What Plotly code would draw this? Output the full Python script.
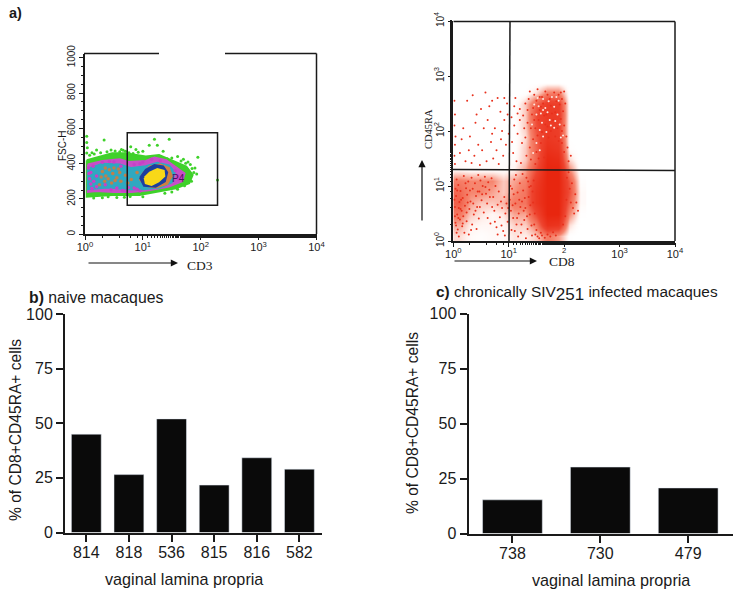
import plotly.graph_objects as go

W, H = 738, 595
def px(x): return x / W
def py(y): return 1 - y / H

# ---------- bar data ----------
b_animals = ["814", "818", "536", "815", "816", "582"]
b_values = [45, 26.5, 52, 21.7, 34.2, 29]
c_animals = ["738", "730", "479"]
c_values = [15.3, 30.2, 20.7]
pct_ticks = [0, 25, 50, 75, 100]

# ---------- panel a, left: density bands (log10 CD3, FSC-H) ----------
green_x = [.03, .24, .47, .7, 1.05, 1.28, 1.57, 1.75, 1.86, 1.8, 1.57, 1.28, .94, .47, .24, .03]
green_y = [420, 440, 459, 459, 440, 449, 411, 383, 336, 289, 260, 241, 222, 222, 219, 213]
magenta_x = [.05, .3, .6, .75, 1.05, 1.2, 1.4, 1.55, 1.72, 1.68, 1.45, 1.1, .8, .5, .2, .05]
magenta_y = [395, 415, 425, 410, 415, 435, 420, 385, 345, 300, 270, 250, 240, 240, 245, 240]
teal_x = [.05, .3, .6, .8, 1.05, 1.25, 1.45, 1.55, 1.5, 1.3, 1.0, .75, .4, .05]
teal_y = [370, 400, 395, 375, 385, 405, 390, 350, 295, 265, 255, 255, 265, 255]
orange_x = [1.0, 1.12, 1.3, 1.45, 1.5, 1.42, 1.22, 1.05, .95]
orange_y = [345, 385, 395, 375, 330, 285, 265, 275, 310]
blue_x = [.95, 1.05, 1.2, 1.35, 1.42, 1.38, 1.22, 1.02]
blue_y = [320, 365, 392, 385, 350, 300, 270, 275]
yellow_x = [1.03, 1.12, 1.25, 1.36, 1.37, 1.27, 1.15, 1.05]
yellow_y = [320, 350, 370, 360, 330, 300, 280, 290]
green_dots_x = [.33, .79, 1.11, 1.2, 1.25, 1.455, 1.95, 2.29, .03, .03, .04, .03, .12, .2, .45, .6, .63, .7, .88,
                1.0, 1.35, 1.6, 1.7, 1.78, 1.82, 1.9, 1.88, 1.6, 1.5, 1.0, .55, .3, .15,
                .08, .16, .27, .38, .52, .66, .76, .83, .92, 1.42, 1.5, 1.66, 1.74, 1.85, 1.93, 1.84, 1.72, 1.38, .78, .68, .4]
green_dots_y = [534, 496, 505, 538, 505, 538, 436, 307, 555, 520, 490, 460, 462, 478, 478, 468, 480, 470, 480,
                470, 470, 440, 425, 410, 395, 375, 350, 255, 240, 212, 208, 207, 205,
                448, 455, 462, 468, 472, 476, 462, 458, 465, 428, 432, 415, 402, 372, 342, 300, 275, 232, 214, 210, 212]
orange_dots_x = [.3, .36, .42, .48, .55, .6, .34, .46, .52, .62, .28, .4, .58, .5, .9, .8, .7, .74, .35, .25]
orange_dots_y = [355, 330, 365, 345, 320, 350, 300, 290, 305, 300, 325, 315, 370, 375, 350, 310, 335, 290, 375, 280]
magenta_dots_x = [.1, .2, .15, .1, .5, .62, .72, .85, .95, 1.6, 1.62, 1.56, 1.66, .2, .35, .55, .75,
                  .06, .08, .12, .07, .14, .3, .42, .68, .9, 1.0, 1.15, 1.3, .95, .85, .65, .45]
magenta_dots_y = [350, 330, 300, 285, 410, 385, 245, 395, 400, 330, 310, 360, 325, 270, 280, 262, 265,
                  375, 315, 260, 345, 385, 408, 412, 245, 255, 410, 425, 415, 245, 262, 248, 252]
gate_x = [0.73, 2.29]
gate_y = [165, 575]

# ---------- panel a, right: density read by eye on a grid (log10 units) ----------
dens_x = [.1, .3, .5, .7, .9, 1.1, 1.3, 1.5, 1.7, 1.9, 2.1, 2.3]
dens_y = [.1, .3, .5, .7, .9, 1.1, 1.3, 1.5, 1.7, 1.9, 2.1, 2.3, 2.5, 2.7, 2.9]
dens_z = [
    [.12, .05, .03, .05, .05, .1, .08, .15, .35, .25, .02, 0],
    [.22, .08, .06, .06, .06, .14, .15, .35, .85, .8, .12, 0],
    [.36, .16, .1, .06, .1, .24, .24, .6, 1, 1, .3, .02],
    [.48, .24, .16, .16, .2, .36, .38, .78, 1, 1, .45, .05],
    [.44, .3, .3, .24, .16, .28, .38, .78, 1, 1, .55, .05],
    [.34, .3, .3, .3, .16, .24, .32, .72, 1, 1, .5, .03],
    [.06, .04, .04, .04, .04, .08, .24, .58, 1, 1, .3, 0],
    [.02, .01, .02, .02, .02, .04, .16, .46, .95, .9, .12, 0],
    [.01, 0, .01, .01, .01, .02, .16, .46, .85, .78, .03, 0],
    [0, 0, 0, 0, .01, .02, .12, .5, .76, .7, .01, 0],
    [0, 0, 0, 0, .01, .02, .16, .56, .74, .68, .01, 0],
    [0, 0, 0, 0, .01, .02, .16, .58, .74, .72, .01, 0],
    [0, 0, 0, 0, .01, .01, .16, .48, .7, .68, .01, 0],
    [0, 0, 0, 0, 0, 0, .02, .12, .34, .34, 0, 0],
    [0, 0, 0, 0, 0, 0, 0, 0, 0, 0, 0, 0],
]
upper_left_dots = [(.02,2.55),(.03,2.3),(.02,2.1),(.04,1.9),(.03,1.75),(.02,1.55),(.03,1.4),(.25,2.55),(.35,2.65),(.42,2.3),
    (.5,2.4),(.58,2.7),(.62,2.2),(.7,2.55),(.75,2.05),(.8,2.6),(.85,2.35),(.92,2.2),(.97,2.5),(1.0,1.95),(.18,2.05),(.3,1.9),
    (.45,1.75),(.55,2.05),(.68,1.8),(.78,1.65),(.88,2.0),(.95,1.75),(.12,1.6),(.22,1.45),(.38,1.55),(.52,1.65),(.6,1.45),
    (.72,1.5),(.82,1.4),(.9,1.55),(.15,1.85),(.28,1.65),(.4,2.15),(.65,2.45),(.86,1.85),(.98,2.3),(.33,1.42),(.48,1.38),
    (.7,1.95),(.92,2.6)]
lower_left_dots = [(.03,.62),(.05,.82),(.07,.48),(.09,1.02),(.11,.71),(.04,.33),(.13,.91),(.15,.55),(.06,1.12),(.17,.78),
    (.19,1.18),(.08,.21),(.21,.64),(.23,.96),(.12,.39),(.25,.84),(.27,1.08),(.16,.27),(.29,.58),(.31,.72),(.33,1.15),(.2,.15),
    (.35,.95),(.37,.48),(.39,1.05),(.24,.36),(.41,.82),(.43,.62),(.45,1.2),(.28,.12),(.47,.9),(.49,1.1),(.34,.3),(.51,.74),
    (.53,1.0),(.55,.52),(.57,1.17),(.42,.22),(.59,.86),(.61,.68),(.63,1.07),(.46,.41),(.65,.93),(.67,.32),(.69,1.14),(.72,.8),
    (.74,.55),(.76,1.0),(.78,.25),(.8,.66),(.82,.9),(.84,.43),(.86,.72),(.88,.6),(.9,.18),(.92,.8),(.94,.5),(.96,.68),(.98,.35),
    (.02,.75),(.04,.95),(.1,.6),(.14,.75),(.18,.45),(.22,1.05),(.26,.7),(.3,.92),(.36,.68),(.4,.55),(.44,.9),(.48,.62),(.52,.85),
    (.58,.98),(.62,.42),(.66,.8),(.7,.62),(.75,.35),(.8,.12),(.87,.28),(.93,.1),(.99,.6),(.06,.15),(.1,.08),(.17,.32),(.13,.58),
    (.07,.92),(.03,.45),(.05,.28),(.09,.42),(.24,.52),(.32,.2)]
lower_mid_dots = [(1.02,.75),(1.04,.55),(1.06,.95),(1.08,.42),(1.1,1.12),(1.12,.68),(1.14,.3),(1.16,.88),(1.18,.5),(1.2,1.05),
    (1.22,.15),(1.24,.72),(1.26,.92),(1.28,.38),(1.3,.6),(1.32,1.15),(1.34,.22),(1.36,.8),(1.38,.48),(1.4,1.0),(1.42,.1),(1.44,.7),
    (1.46,.3),(1.48,.12),(1.5,.2),(1.52,.08),(1.05,.2),(1.09,.85),(1.13,1.2),(1.17,.08),(1.21,.62),(1.25,1.22),(1.29,.78),(1.33,.45),
    (1.37,.98),(1.41,.28),(1.45,1.1),(1.15,.42),(1.23,.3),(1.31,.05),(1.39,.65),(1.27,.55),(1.35,1.08),(1.43,.9),(1.19,.75),(1.11,.18),
    (1.07,.65),(1.03,1.0),(1.47,.5),(1.55,.05),(1.6,.1),(1.58,.15),(1.65,.06),(1.7,.12),(1.75,.08),(1.8,.16),(1.85,.1),
    (2.05,1.15),(2.1,.95),(2.04,.75),(2.12,.7),(2.16,.6),(2.2,.85),(2.22,.7),(2.25,.55),(2.18,.5),(2.14,1.05),(2.08,1.25),(2.02,.45),(1.98,.3)]
upper_lobe_dots = [(1.38,2.72),(1.46,2.66),(1.52,2.76),(1.6,2.62),(1.66,2.72),(1.74,2.58),(1.82,2.7),(1.9,2.66),(1.96,2.58),(2.0,2.72),
    (1.3,2.5),(1.36,2.58),(1.44,2.42),(1.5,2.55),(1.56,2.38),(1.62,2.5),(1.68,2.3),(1.76,2.46),(1.84,2.34),(1.92,2.48),(1.98,2.36),(2.02,2.5),
    (1.12,2.6),(1.2,2.4),(1.26,2.28),(1.34,2.15),(1.42,2.3),(1.48,2.05),(1.54,2.2),(1.6,1.98),(1.66,2.12),(1.72,1.88),(1.8,2.2),(1.88,2.05),
    (1.94,2.22),(2.0,2.1),(2.04,1.9),(1.1,2.1),(1.16,1.95),(1.24,1.78),(1.3,1.88),(1.38,1.7),(1.44,1.85),(1.5,1.62),(1.58,1.78),(1.64,1.52),
    (1.96,1.78),(2.0,1.62),(2.06,1.7),(2.08,1.45),(2.12,1.55),(1.08,1.6),(1.14,1.45),(1.22,1.42),(1.32,1.55),(1.4,1.48),(1.48,1.4),(1.54,1.5),
    (1.56,2.62),(1.7,2.66),(1.78,2.32),(1.86,2.54),(1.94,2.7),(1.46,2.2),(1.52,1.92),(1.58,2.44),(1.64,2.28),(1.7,2.08),(1.76,2.0),(1.84,1.9),
    (1.9,1.82),(1.96,2.0),(1.4,2.05),(1.34,2.38),(1.28,2.05),(1.2,2.2),(1.16,2.32),(1.1,2.45),(1.06,1.8),(1.05,2.25)]
pale_speckle = [(1.52,2.6),(1.58,2.32),(1.62,2.58),(1.54,2.45),(1.66,2.42),(1.72,2.54),(1.6,2.15),(1.68,1.98),(1.74,2.2),(1.82,2.44),
    (1.88,2.3),(1.92,2.12),(1.98,1.92),(1.82,2.06),(1.78,2.62),(1.86,2.62),(1.5,2.3),(1.46,2.48),(1.42,2.12),(1.56,2.02),(1.5,1.78),
    (1.44,1.6),(1.56,1.65),(1.62,1.9),(1.9,2.55),(1.7,2.34),(1.62,2.38),(1.76,2.1),(1.84,2.18),(1.94,1.88)]
red_dots = upper_left_dots + lower_left_dots + lower_mid_dots + upper_lobe_dots

LIN = "#1a1a1a"
fig = go.Figure()

# Bars
fig.add_bar(x=b_animals, y=b_values, xaxis="x", yaxis="y", marker_color="#0a0a0a", width=0.7, showlegend=False)
fig.add_bar(x=c_animals, y=c_values, xaxis="x2", yaxis="y2", marker_color="#0a0a0a", width=0.68, showlegend=False)

# Left flow plot
def band(xs, ys, col):
    fig.add_scatter(x=[10**v for v in xs + xs[:1]], y=ys + ys[:1], xaxis="x3", yaxis="y3", mode="lines",
                    fill="toself", fillcolor=col, line=dict(color=col, width=2), showlegend=False, hoverinfo="skip")
def dots(xs, ys, col, size, ax="x3", ay="y3"):
    fig.add_scatter(x=[10**v for v in xs], y=ys, xaxis=ax, yaxis=ay, mode="markers",
                    marker=dict(color=col, size=size, line_width=0), showlegend=False, hoverinfo="skip")
band(green_x, green_y, "#3fd12a")
dots(green_dots_x, green_dots_y, "#3fd12a", 3)
band(magenta_x, magenta_y, "#c84fc8")
band(teal_x, teal_y, "#2fa8c0")
dots(magenta_dots_x, magenta_dots_y, "#c840c8", 3.5)
dots(orange_dots_x, orange_dots_y, "#c0804a", 3.5)
band(orange_x, orange_y, "#d08040")
band(blue_x, blue_y, "#1c3fa0")
band(yellow_x, yellow_y, "#f8d818")

# Right flow plot
fig.add_heatmap(x=[10**v for v in dens_x], y=[10**v for v in dens_y], z=dens_z, xaxis="x4", yaxis="y4",
                zmin=0, zmax=1, zsmooth="best", showscale=False, hoverinfo="skip",
                colorscale=[[0, "rgba(255,255,255,0)"], [.08, "#fff0ec"], [.3, "#f6866f"], [.6, "#ee4530"], [1, "#e8260f"]])
fig.add_scatter(x=[10**p[0] for p in red_dots], y=[10**p[1] for p in red_dots], xaxis="x4", yaxis="y4", mode="markers",
                marker=dict(color="#e8301c", size=2, line_width=0), showlegend=False, hoverinfo="skip")
fig.add_scatter(x=[10**p[0] for p in pale_speckle], y=[10**p[1] for p in pale_speckle], xaxis="x4", yaxis="y4", mode="markers",
                marker=dict(color="#fde8e2", size=2, line_width=0), showlegend=False, hoverinfo="skip")

dec = [1, 10, 100, 1000, 10000]
dec_text = ["10<sup>0</sup>", "10<sup>1</sup>", "10<sup>2</sup>", "10<sup>3</sup>", "10<sup>4</sup>"]
dec_text_r = ["10<sup>0</sup>", "10<sup>1</sup>", "<sup>2</sup>", "10<sup>3</sup>", "10<sup>4</sup>"]
sans = "Liberation Sans"
serif = "Liberation Serif"
tf = dict(family=sans, size=16, color="#1a1a1a")

def bar_x(dom, rng):
    return dict(domain=[px(dom[0]), px(dom[1])], range=rng, type="category", showline=True, linecolor=LIN, linewidth=2,
                ticks="outside", ticklen=7, tickwidth=2, tickcolor=LIN, tickfont=tf, showgrid=False, zeroline=False,
                automargin=False, ticklabelstandoff=-3)
def bar_y(dom, anchor):
    return dict(domain=[py(dom[1]), py(dom[0])], range=[0, 100], tickvals=pct_ticks, showline=True, linecolor=LIN,
                linewidth=2, ticks="outside", ticklen=7, tickwidth=2, tickcolor=LIN, tickfont=tf, showgrid=False,
                zeroline=False, anchor=anchor, automargin=False)
def log_x(dom, text, size):
    return dict(domain=[px(dom[0]), px(dom[1])], type="log", range=[0, 4], tickvals=dec, ticktext=text, tickangle=0,
                showline=True, linecolor=LIN, linewidth=1.5, ticks="outside", ticklen=4, tickcolor=LIN, showgrid=False,
                zeroline=False, tickfont=dict(family=sans, size=size, color="#222"), automargin=False, ticklabelstandoff=-2,
                minor=dict(ticks="outside", ticklen=2, tickcolor=LIN, showgrid=False))

fig.update_layout(
    width=W, height=H, margin=dict(l=0, r=0, t=0, b=0), paper_bgcolor="white", plot_bgcolor="white",
    showlegend=False, bargap=0.3,
    xaxis=bar_x((65, 322), [-0.5, 5.53]),
    yaxis=bar_y((314, 532.5), "x"),
    xaxis2=dict(bar_x((468.5, 733), [-0.5, 2.51]), anchor="y2"),
    yaxis2=bar_y((313.5, 533.5), "x2"),
    xaxis3=dict(log_x((85, 316.5), dec_text, 11), anchor="y3"),
    yaxis3=dict(domain=[py(234.3), py(53.5)], range=[0, 1024], tickvals=[0, 200, 400, 600, 800, 1000], tickangle=-90,
                showline=True, linecolor=LIN, linewidth=1.5, ticks="outside", ticklen=4, tickcolor=LIN, showgrid=False,
                zeroline=False, anchor="x3", tickfont=dict(family=sans, size=10, color="#222"), automargin=False,
                minor=dict(ticks="outside", ticklen=2, tickcolor=LIN, dtick=50, showgrid=False)),
    xaxis4=dict(log_x((453.3, 675), dec_text_r, 11), anchor="y4"),
    yaxis4=dict(domain=[py(241), py(21)], type="log", range=[0, 4], tickvals=dec, ticktext=dec_text, tickangle=-90,
                showline=True, linecolor=LIN, linewidth=1.5, ticks="outside", ticklen=4, tickcolor=LIN, showgrid=False,
                zeroline=False, anchor="x4", tickfont=dict(family=sans, size=10, color="#222"), automargin=False,
                minor=dict(ticks="outside", ticklen=2, tickcolor=LIN, showgrid=False)),
)

def seg(x0, y0, x1, y1, w=1.5, col=LIN):
    return dict(type="line", xref="paper", yref="paper", x0=px(x0), y0=py(y0), x1=px(x1), y1=py(y1),
                line=dict(color=col, width=w))
fig.update_layout(shapes=[
    seg(84, 53.5, 159, 53.5), seg(225, 53.5, 316.5, 53.5), seg(316.5, 53.5, 316.5, 234),
    dict(type="rect", xref="x3", yref="y3", x0=10**gate_x[0], x1=10**gate_x[1], y0=gate_y[0], y1=gate_y[1],
         line=dict(color=LIN, width=1.5)),
    seg(453.5, 21.5, 675, 21.5), seg(675, 21.5, 675, 241),
    seg(510, 21, 509, 241, 1.5), seg(453, 169.5, 675, 170.5, 1.5),
])

def txt(x, y, s, size, family=sans, angle=0, color="#1a1a1a", anchor="center"):
    fig.add_annotation(xref="paper", yref="paper", x=px(x), y=py(y), text=s, showarrow=False, textangle=angle,
                       xanchor=anchor, yanchor="middle", font=dict(family=family, size=size, color=color))
def arrow(x0, y0, x1, y1):
    fig.add_annotation(xref="paper", yref="paper", axref="pixel", ayref="pixel", x=px(x1), y=py(y1), ax=x0 - x1, ay=y0 - y1,
                       text="", showarrow=True, arrowhead=2, arrowsize=1.2, arrowwidth=1.2, arrowcolor="#111")

txt(7, 13, "<b>a)</b>", 14.5, anchor="left")
txt(27, 297, "<b>b)</b> naive macaques", 15.8, anchor="left")
txt(434, 293, "<b>c)</b> chronically SIV<sub><span style=\"font-size:17px\">251</span></sub> infected macaques", 15.4, anchor="left")
txt(15, 430, "% of CD8+CD45RA+ cells", 15.6, angle=-90)
txt(412, 423, "% of CD8+CD45RA+ cells", 15.6, angle=-90)
txt(184, 579, "vaginal lamina propria", 16.2)
txt(611, 580, "vaginal lamina propria", 16.2)
txt(62, 146, "FSC-H", 10, angle=-90)
txt(178, 178, "P4", 10, color="#4a1060")
txt(200, 265, "CD3", 13.5, family=serif)
txt(562, 261, "CD8", 13.5, family=serif)
txt(428, 129, "CD45RA", 10.5, family=serif, angle=-90)
arrow(87, 263, 178, 263)
arrow(453, 261, 537, 261)
arrow(422, 222, 422, 160)

fig.write_html("out.html", config={"displayModeBar": False}, post_script="document.body.style.margin='0';")
